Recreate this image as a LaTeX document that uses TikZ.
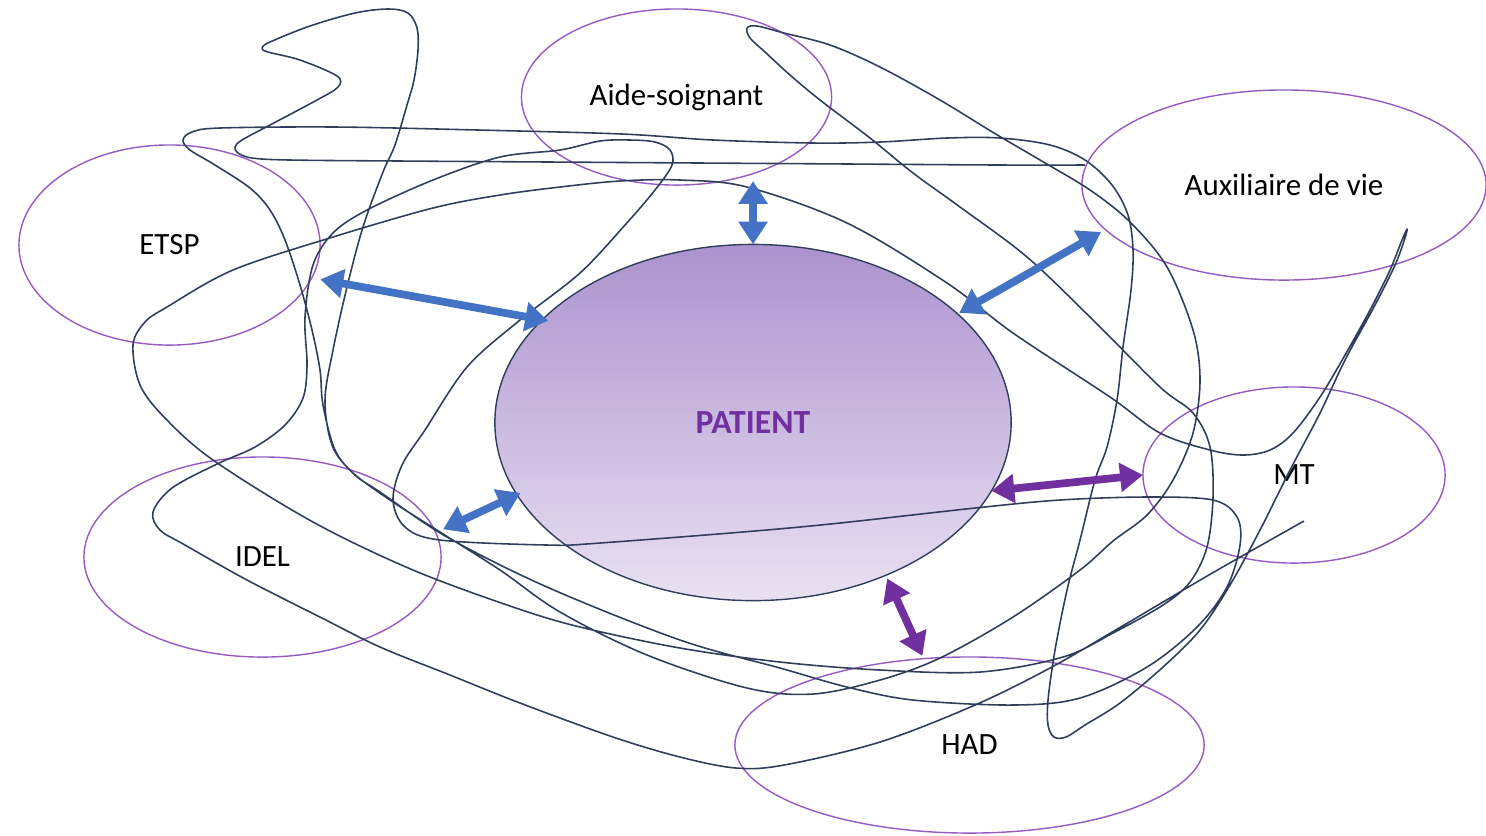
\documentclass[tikz,border=0pt]{standalone}
\usepackage{fontspec}
\setmainfont{Carlito}
\usetikzlibrary{shapes.geometric,arrows.meta}

\definecolor{ringpurple}{RGB}{150,90,195}
\definecolor{tangle}{RGB}{48,62,92}
\definecolor{linkblue}{RGB}{68,114,196}
\definecolor{linkpurple}{RGB}{112,48,160}
\definecolor{patienttop}{RGB}{172,146,206}
\definecolor{patientbottom}{RGB}{233,225,242}

\tikzset{
  actor/.style={ellipse, draw=ringpurple, line width=0.4pt, inner sep=0pt, outer sep=0pt,
    font=\fontsize{8.8}{10}\selectfont},
  bluelink/.style={{Triangle[width=8pt,length=6.5pt]}-{Triangle[width=8pt,length=6.5pt]},
    draw=linkblue, line width=2.2pt},
  purplelink/.style={bluelink, draw=linkpurple}
}

\begin{document}
\begin{tikzpicture}[x=0.01cm,y=-0.01cm]
\useasboundingbox (0,0) rectangle (1486,835);
% patient in the middle
\node[ellipse, draw=tangle, line width=0.4pt, inner sep=0pt, outer sep=0pt,
  minimum width=5.16cm, minimum height=3.56cm,
  top color=patienttop, bottom color=patientbottom,
  font=\fontsize{9.6}{11}\selectfont\bfseries, text=linkpurple] (patient) at (753,422.5) {PATIENT};
% the professionals around
\node[actor, minimum width=3.1cm, minimum height=1.76cm] (aide) at (676.5,97) {Aide-soignant};
\node[actor, minimum width=4.04cm, minimum height=1.9cm] (aux) at (1284,185) {Auxiliaire de vie};
\node[actor, minimum width=3.01cm, minimum height=2cm] (etsp) at (169.5,245) {ETSP};
\node[actor, minimum width=3.57cm, minimum height=2cm] (idel) at (262.5,557) {IDEL};
\node[actor, minimum width=3.02cm, minimum height=1.76cm] (mt) at (1294,475) {MT};
\node[actor, minimum width=4.69cm, minimum height=1.76cm] (had) at (969.5,745) {HAD};
% the tangle
\draw[tangle, line width=0.45pt, line join=round] plot[smooth, tension=0.55] coordinates {
  (1085,165) (1000,165) (850,164) (700,163) (550,162) (400,161) (290,160) (252,158)
  (238,153) (235,147) (242,140) (270,125) (317,100) (338,87) (337,76) (300,60)
  (268,52) (262,48) (270,42) (310,26) (355,13) (388,9) (408,13) (417,28) (418,50)
  (414,80) (407,105) (395,145) (383,172) (363,227) (347,287) (333,350) (325,400)
  (332,445) (352,472) (390,500) (440,532) (500,570) (560,612) (647,655) (747,688)
  (813,694) (880,680) (940,658) (1013,617) (1080,570) (1113,541) (1147,515)
  (1173,480) (1193,433) (1200,380) (1193,330) (1167,267) (1130,222) (1090,190)
  (1040,160) (994,133) (940,100) (880,67) (830,45) (784,33) (757,26) (747,28)
  (750,38) (765,52) (790,75) (820,100) (870,138) (913,173) (960,207) (1027,257)
  (1093,320) (1160,387) (1193,413) (1210,447) (1213,497) (1207,547) (1190,582)
  (1163,605) (1113,633) (1063,657) (980,672) (880,670) (780,662) (680,648)
  (580,627) (513,607) (413,570) (313,522) (213,460) (165,418) (140,385) (133,345)
  (145,322) (167,307) (233,270) (333,237) (433,208) (500,195) (560,187) (620,181)
  (680,180) (747,187) (847,223) (947,283) (1013,333) (1110,397) (1160,433)
  (1210,450) (1243,455) (1270,450) (1293,433) (1320,397) (1345,355) (1370,310)
  (1390,270) (1402,240) (1407,229) (1405,238) (1395,265) (1375,305) (1345,360)
  (1320,413) (1290,470) (1260,530) (1230,585) (1200,630) (1163,667) (1120,703)
  (1085,725) (1066,737) (1054,737) (1048,725) (1048,700) (1055,650) (1067,590)
  (1080,540) (1095,480) (1107,447) (1117,400) (1123,347) (1131,290) (1133,250)
  (1128,215) (1112,185) (1085,160) (1050,145) (1000,138) (947,138) (880,142)
  (813,143) (713,140) (622,134) (478,130) (335,127) (220,128) (192,132) (183,140)
  (190,150) (215,165) (250,188) (270,210) (285,240) (300,285) (312,330) (320,370)
  (323,405) (335,450) (355,475) (380,492) (447,537) (547,587) (680,640) (780,668)
  (847,687) (913,700) (1013,705) (1080,698) (1147,667) (1197,627) (1227,587)
  (1240,545) (1237,517) (1213,500) (1147,497) (1060,500) (975,508) (800,527)
  (600,543) (547,545) (440,540) (405,527) (393,500) (402,465) (425,430) (467,367)
  (520,320) (580,273) (625,225) (655,190) (672,165) (670,150) (655,142) (630,140)
  (600,141) (560,150) (500,157) (433,180) (367,210) (333,233) (313,265) (305,317)
  (307,365) (303,398) (285,425) (255,447) (217,464) (172,488) (153,512) (160,530)
  (185,545) (247,580) (320,617) (380,647) (450,675) (520,703) (613,737) (680,757)
  (736,768) (784,765) (880,742) (975,705) (1050,668) (1119,628) (1214,572) (1304,521)};
% links to the patient
\draw[bluelink, shorten <=0.075cm] (aide.-45) -- (patient.north);
\draw[bluelink, shorten <=0.087cm, shorten >=-0.06cm] (etsp.-13) -- (patient.154);
\draw[bluelink, shorten <=0.02cm, shorten >=0.05cm] (patient.28) -- (aux.194);
\draw[bluelink, shorten <=0.08cm, shorten >=-0.04cm] (idel.8.5) -- (patient.197);
\draw[purplelink] (patient.-16.6) -- (mt.west);
\draw[purplelink, shorten <=0.035cm, shorten >=0.03cm] (patient.-49) -- (had.118);
\end{tikzpicture}
\end{document}
